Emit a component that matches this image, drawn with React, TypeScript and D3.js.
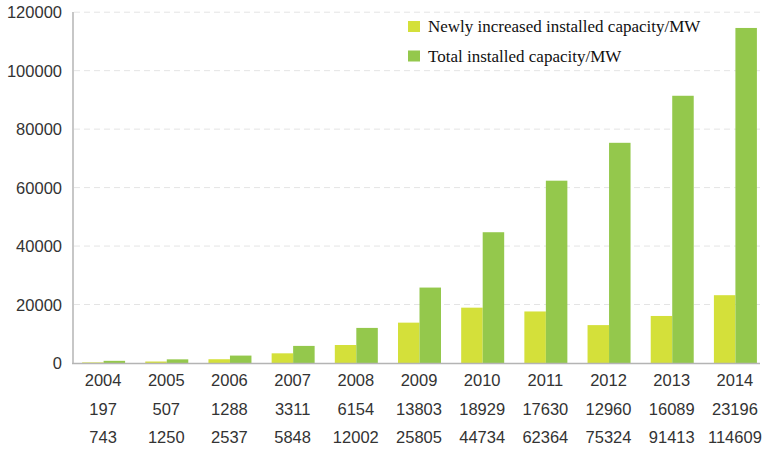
import React from "react";
import * as d3 from "d3";

const years = ["2004", "2005", "2006", "2007", "2008", "2009", "2010", "2011", "2012", "2013", "2014"];
const newlyInstalled = [197, 507, 1288, 3311, 6154, 13803, 18929, 17630, 12960, 16089, 23196];
const totalInstalled = [743, 1250, 2537, 5848, 12002, 25805, 44734, 62364, 75324, 91413, 114609];
const yTicks = [0, 20000, 40000, 60000, 80000, 100000, 120000];
const seriesNames = ["Newly increased installed capacity/MW", "Total installed capacity/MW"];
const seriesColors = ["#d4e03a", "#94c84c"];

const W = 763;
const H = 449;

export default function App() {
  const x = d3.scaleBand<string>().domain(years).range([71.5, 766.5]).paddingInner(0).paddingOuter(0);
  const y = d3.scaleLinear().domain([0, 120000]).range([363, 12.2]);
  const sub = d3.scaleBand<number>().domain([0, 1]).range([-21, 22]).padding(0);

  const sans = "'Liberation Sans', Arial, sans-serif";
  const serif = "'Liberation Serif', 'Times New Roman', serif";

  const center = (yr: string) => (x(yr) as number) + x.bandwidth() / 2;

  return (
    <svg width={W} height={H} style={{ position: "absolute", left: 0, top: 0, background: "#fff" }}>
      {/* faint dashed gridlines */}
      {yTicks.filter((t) => t > 0).map((t) => (
        <line key={t} x1={74} x2={760} y1={y(t)} y2={y(t)} stroke="#e4e4e4" strokeWidth={1} strokeDasharray="6,4" />
      ))}
      {/* bars */}
      {years.map((yr, i) => {
        const c = center(yr);
        const vals = [newlyInstalled[i], totalInstalled[i]];
        return vals.map((v, k) => (
          <rect
            key={yr + k}
            x={c + (sub(k) as number)}
            width={sub.bandwidth()}
            y={y(v)}
            height={y(0) - y(v)}
            fill={seriesColors[k]}
          />
        ));
      })}
      {/* axes */}
      <line x1={73} x2={73} y1={12} y2={363.5} stroke="#b4b4b4" strokeWidth={1.5} />
      <line x1={72} x2={760} y1={363.5} y2={363.5} stroke="#b4b4b4" strokeWidth={1.5} />
      {yTicks.map((t) => (
        <text key={t} x={62} y={y(t) + 6} textAnchor="end" fontFamily={sans} fontSize={16.5} fill="#333">
          {t}
        </text>
      ))}
      {years.map((yr, i) => {
        const c = center(yr);
        return (
          <g key={yr} fontFamily={sans} fontSize={16.5} fill="#333" textAnchor="middle">
            <text x={c} y={386}>{yr}</text>
            <text x={c} y={415}>{newlyInstalled[i]}</text>
            <text x={c} y={443}>{totalInstalled[i]}</text>
          </g>
        );
      })}
      {/* legend */}
      {seriesNames.map((name, k) => (
        <g key={name}>
          <rect x={408} y={21 + k * 29.5} width={12} height={11} fill={seriesColors[k]} />
          <text x={428} y={32 + k * 30} fontFamily={serif} fontSize={17} fill="#111">
            {name}
          </text>
        </g>
      ))}
    </svg>
  );
}
